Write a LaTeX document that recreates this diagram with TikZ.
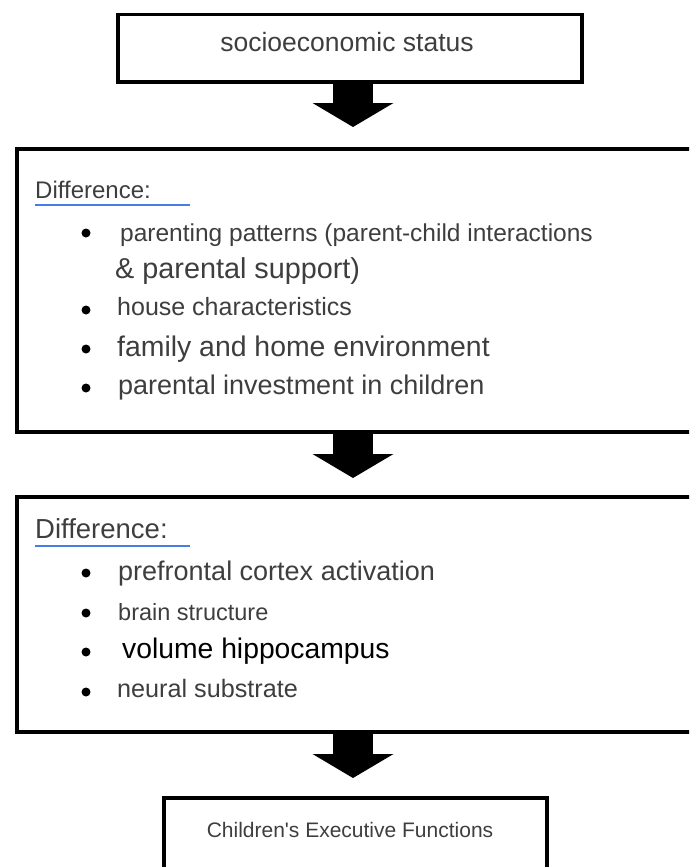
\documentclass[tikz,border=0pt]{standalone}
\usepackage{fontspec}
\setmainfont{Liberation Sans}
\newfontfamily\plainsans{Liberation Sans}
\usetikzlibrary{arrows.meta,positioning}
\definecolor{txtgray}{RGB}{62,62,62}
\definecolor{spellblue}{RGB}{70,125,230}
\newcommand{\setfs}[1]{\fontsize{#1}{#1}\selectfont}

\begin{document}
\begin{tikzpicture}[x=1pt,y=-1pt,
    box/.style={draw, line width=3.5pt, rectangle, anchor=north west, inner sep=0pt},
    item/.style={anchor=mid west, inner sep=0pt, text=txtgray},
    blob/.style={circle, fill=black, inner sep=0pt, minimum size=9pt},
    uline/.style={spellblue, line width=2pt},
    bigarrow/.style={line width=40pt, -{Triangle[length=24pt,width=81pt,line width=0pt]}, shorten >=18pt}
]
    \clip (0,0) rectangle (689,867);
    \coordinate (ax) at (353,0);

    % boxes
    \node[box, minimum width=464pt, minimum height=67pt] (ses) at (116,13) {};
    \node[box, minimum width=690pt, minimum height=283pt] (diff1) at (15,147) {};
    \node[box, minimum width=690pt, minimum height=235pt] (diff2) at (15,495) {};
    \node[box, minimum width=383pt, minimum height=90pt] (ef) at (162,796) {};

    \node[anchor=mid, inner sep=0pt, text=txtgray, font=\setfs{26.5}] (sestxt) at (347,49) {socioeconomic status};
    \node[anchor=mid, inner sep=0pt, text=txtgray, font=\plainsans\setfs{21}] (eftxt) at (350,835) {Children's Executive Functions};

    % first list
    \node[item, font=\setfs{24}] (d1head) at (35,196) {Difference:};
    \draw[uline] (35,205) -- (190,205);
    \foreach \t/\xx/\yy/\s [count=\n] in {
        parenting patterns (parent-child interactions/120/239/24.5,
        \& parental support)/115/276/28.8,
        house characteristics/117/313/25,
        family and home environment/117/354/28.4,
        parental investment in children/118/392/27}
        \node[item, font=\setfs{\s}] (d1-\n) at (\xx,\yy) {\t};
    \foreach \yy [count=\n] in {233,310,349,388}
        \node[blob] (b1-\n) at (86,\yy) {};

    % second list
    \node[item, font=\setfs{27.5}] (d2head) at (35,536) {Difference:};
    \draw[uline] (35,546) -- (190,546);
    \foreach \t/\xx/\yy/\s/\c [count=\n] in {
        prefrontal cortex activation/118/578/27/txtgray,
        brain structure/118/618/23.5/txtgray,
        volume hippocampus/122/656/28.3/black,
        neural substrate/117/695/25.2/txtgray}
        \node[item, font=\setfs{\s}, text=\c] (d2-\n) at (\xx,\yy) {\t};
    \foreach \yy [count=\n] in {573,613,652,692}
        \node[blob] (b2-\n) at (86,\yy) {};

    % arrows
    \draw[bigarrow, shorten >=20pt] (ses.south -| ax) -- (diff1.north -| ax);
    \draw[bigarrow, shorten >=17pt] (diff1.south -| ax) -- (diff2.north -| ax);
    \draw[bigarrow] (diff2.south -| ax) -- (ef.north -| ax);
\end{tikzpicture}
\end{document}
